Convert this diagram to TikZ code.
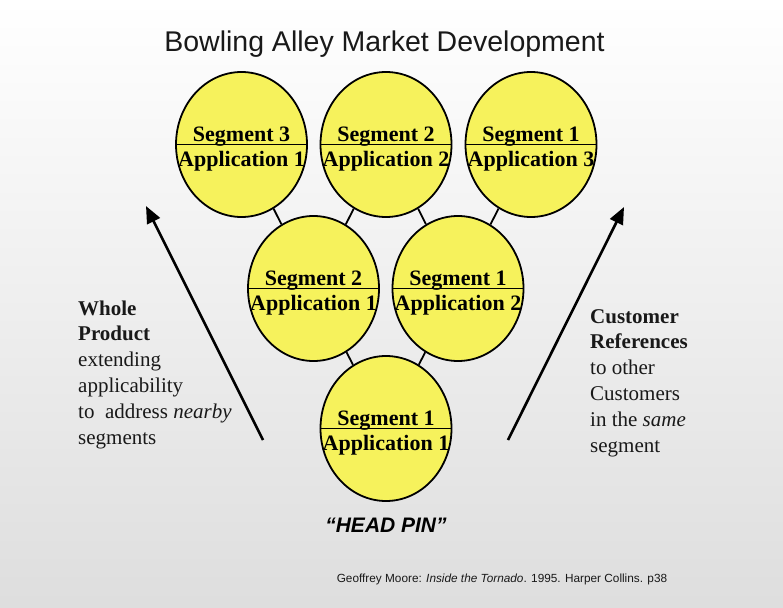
\documentclass[tikz,border=0pt]{standalone}
\usepackage{fontspec}
\setmainfont{Liberation Serif}
\setsansfont{Liberation Sans}
\usetikzlibrary{arrows.meta,shapes.geometric}

\definecolor{pinyellow}{RGB}{246,242,92}
\definecolor{inkgray}{RGB}{25,25,25}

\tikzset{
  pinball/.style={ellipse, draw=black, line width=1.8pt, fill=pinyellow,
    minimum width=131pt, minimum height=145pt, inner sep=0pt},
  divider/.style={line width=1.8pt},
  pinlabel/.style={font=\fontsize{22}{22}\selectfont\bfseries, inner sep=0pt, anchor=base},
  link/.style={line width=1.8pt},
  bigarrow/.style={line width=2.6pt, -{Triangle[length=17pt,width=14pt]}},
  sidetext/.style={font=\fontsize{21}{25.8}\selectfont, text=inkgray, align=left,
    inner sep=0pt, anchor=base west},
}

% one pin: ellipse, centre line, segment above and application below
\newcommand{\bowlpin}[4]{%
  \node[pinball] (#1) at (#2) {};
  \draw[divider] (#1.west) -- (#1.east);
  \node[pinlabel] (#1-seg) at ([yshift=3pt]#1.center) {#3};
  \node[pinlabel] (#1-app) at ([yshift=-22pt]#1.center) {#4};
}

\begin{document}
\begin{tikzpicture}[x=1pt, y=-1pt]
  % page with a soft grey fade towards the bottom
  \shade[top color=white, middle color=black!3, bottom color=black!13]
    (0,0) rectangle (783,607);
  \useasboundingbox (0,0) rectangle (783,607);

  % title
  \node[font=\sffamily\fontsize{28.5}{30}\selectfont, text=inkgray, anchor=base, inner sep=0pt]
    (title) at (384.5,52) {Bowling Alley Market Development};

  % pin centres
  \coordinate (p-t1) at (241.5,144.5);
  \coordinate (p-t2) at (386,144.5);
  \coordinate (p-t3) at (531,144.5);
  \coordinate (p-m1) at (313.5,288.5);
  \coordinate (p-m2) at (458,288.5);
  \coordinate (p-b)  at (386,428.5);

  % the pins
  \bowlpin{t1}{p-t1}{Segment 3}{Application 1}
  \bowlpin{t2}{p-t2}{Segment 2}{Application 2}
  \bowlpin{t3}{p-t3}{Segment 1}{Application 3}
  \bowlpin{m1}{p-m1}{Segment 2}{Application 1}
  \bowlpin{m2}{p-m2}{Segment 1}{Application 2}
  \bowlpin{hp}{p-b}{Segment 1}{Application 1}

  % short links between neighbouring pins
  \draw[link] (t1) -- (m1);
  \draw[link] (t2) -- (m1);
  \draw[link] (t2) -- (m2);
  \draw[link] (t3) -- (m2);
  \draw[link] (m1) -- (hp);
  \draw[link] (m2) -- (hp);

  % side arrows
  \coordinate (la-tail) at (263,440);
  \coordinate (la-tip)  at (146,206);
  \coordinate (ra-tail) at (508,440);
  \coordinate (ra-tip)  at (624,207);
  \draw[bigarrow] (la-tail) -- (la-tip);
  \draw[bigarrow] (ra-tail) -- (ra-tip);

  % side notes (anchored on the baseline of their last line)
  \node[sidetext] (left-note) at (78,444)
    {\textbf{Whole}\\ \textbf{Product}\\ extending\\ applicability\\ to~ address \textit{nearby}\\ segments};
  \node[sidetext] (right-note) at (590,452)
    {\textbf{Customer}\\ \textbf{References}\\ to other\\ Customers\\ in the \textit{same}\\ segment};

  % head pin caption
  \node[font=\sffamily\bfseries\itshape\fontsize{21}{21}\selectfont, anchor=base, inner sep=0pt]
    (headpin) at (386,532) {\textquotedblleft HEAD PIN\textquotedblright};

  % source
  \node[font=\sffamily\fontsize{11.8}{12}\selectfont, text=inkgray, anchor=base, inner sep=0pt]
    (source) at (502,582) {Geoffrey Moore: \textit{Inside the Tornado}. 1995. Harper Collins. p38};
\end{tikzpicture}
\end{document}
